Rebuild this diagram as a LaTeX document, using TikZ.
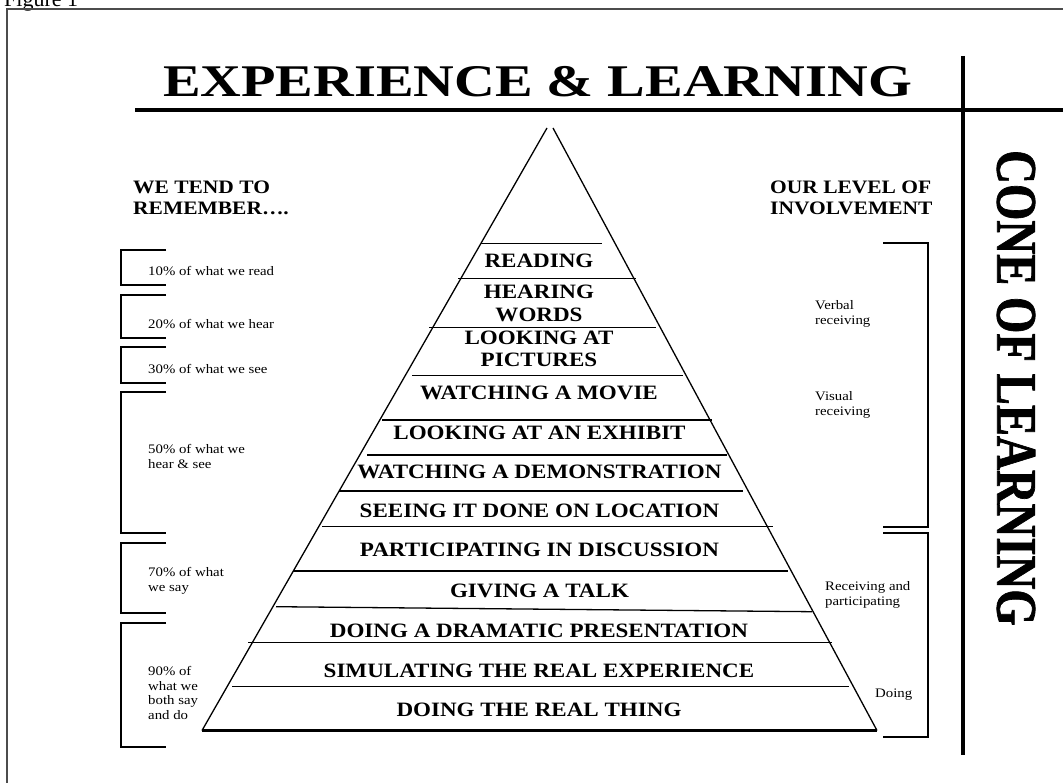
\documentclass[tikz,border=0pt]{standalone}
\usepackage{fontspec}
\setmainfont{Liberation Serif}
\newfontfamily\fa{Liberation Serif}[FakeStretch=1.13]
\newfontfamily\fs{Liberation Serif}[FakeStretch=1.14]
\newfontfamily\fb{Liberation Serif}[FakeStretch=1.245]
\newfontfamily\fc{Liberation Serif}[FakeStretch=0.815,FakeBold=1.2]
\begin{document}
\begin{tikzpicture}[x=1pt,y=-1pt,
  frame/.style={line width=1.3pt, black!70},
  edge/.style={line width=1.3pt},
  layer/.style={line width=1.3pt},
  brk/.style={line width=1.4pt},
  ptext/.style={font=\fa\bfseries\fontsize{20.4}{23}\selectfont, inner sep=0pt, align=center},
  small/.style={font=\fs\fontsize{13}{15}\selectfont, inner sep=0pt, align=left, anchor=north west},
  head/.style={font=\fa\bfseries\fontsize{19}{21}\selectfont, inner sep=0pt, align=left, anchor=north west}]
\useasboundingbox (0,0) rectangle (1063,783);
% frame and caption
\node[font=\fontsize{22}{24}\selectfont, inner sep=0pt, anchor=base west] (fig) at (4,6.5) {Figure 1};
\draw[frame] (7,800) -- (7,9) -- (1080,9);
% title
\node[font=\fb\bfseries\fontsize{45.3}{50}\selectfont, inner sep=0pt] (title) at (537.5,82) {EXPERIENCE \& LEARNING};
\draw[line width=3.5pt] (135,110) -- (1070,110);
\draw[line width=4pt] (963,56) -- (963,755);
\node[font=\fc\bfseries\fontsize{57.4}{60}\selectfont, inner sep=0pt, rotate=-90] (cone) at (1016,388) {CONE OF LEARNING};
% headings
\node[head] (rem) at (133,180.5) {WE TEND TO\\REMEMBER\ldots.};
\node[head] (inv) at (770,180.5) {OUR LEVEL OF\\INVOLVEMENT};
% pyramid
\coordinate (apl) at (547,128);
\coordinate (apr) at (553,128);
\coordinate (bl) at (202,730.5);
\coordinate (br) at (877,730.5);
\draw[edge] (apl) -- (bl);
\draw[edge] (apr) -- (br);
\draw[line width=2.4pt] (bl) -- (br);
\draw[layer] (481,243.5) -- (602,243.5);
\draw[layer] (458,278.3) -- (636,278.3);
\draw[layer] (429,327.3) -- (656,327.3);
\draw[layer] (412,375.7) -- (683,375.7);
\draw[layer] (382,420) -- (712,420);
\draw[layer] (367,455) -- (727,455);
\draw[layer] (339,491) -- (743,491);
\draw[layer] (322,526.7) -- (773,526.7);
\draw[layer] (293,571) -- (788,571);
\draw[layer] (276,606.7) -- (812,611.7);
\draw[layer] (248,642.3) -- (832,642.3);
\draw[layer] (232,686.7) -- (849,686.7);
\node[ptext] (p1) at (539,260.7) {READING};
\node[ptext, font=\fa\bfseries\fontsize{20.4}{23.3}\selectfont] (p2) at (539,303.3) {HEARING\\WORDS};
\node[ptext, font=\fa\bfseries\fontsize{20.4}{22.7}\selectfont] (p3) at (539,348.7) {LOOKING AT\\PICTURES};
\node[ptext] (p4) at (539,392.7) {WATCHING A MOVIE};
\node[ptext] (p5) at (539.5,433.3) {LOOKING AT AN EXHIBIT};
\node[ptext] (p6) at (539.5,471.7) {WATCHING A DEMONSTRATION};
\node[ptext] (p7) at (539.5,510.7) {SEEING IT DONE ON LOCATION};
\node[ptext] (p8) at (539.5,550) {PARTICIPATING IN DISCUSSION};
\node[ptext] (p9) at (539.5,590.7) {GIVING A TALK};
\node[ptext] (p10) at (539,630.7) {DOING A DRAMATIC PRESENTATION};
\node[ptext] (p11) at (539,670.7) {SIMULATING THE REAL EXPERIENCE};
\node[ptext] (p12) at (539,710) {DOING THE REAL THING};
% left brackets
\draw[brk] (166,250) -- (121,250) -- (121,285) -- (166,285);
\draw[brk] (166,295) -- (121,295) -- (121,338) -- (166,338);
\draw[brk] (166,347) -- (121,347) -- (121,383) -- (166,383);
\draw[brk] (166,392) -- (121,392) -- (121,533) -- (166,533);
\draw[brk] (166,543) -- (121,543) -- (121,613) -- (166,613);
\draw[brk] (166,623) -- (121,623) -- (121,747) -- (166,747);
\node[small] (r10) at (148,266) {10\% of what we read};
\node[small] (r20) at (148,319) {20\% of what we hear};
\node[small] (r30) at (148,364) {30\% of what we see};
\node[small] (r50) at (148,444) {50\% of what we\\hear \& see};
\node[small] (r70) at (148,567) {70\% of what\\we say};
\node[small, font=\fs\fontsize{13}{14.7}\selectfont] (r90) at (148,666) {90\% of\\what we\\both say\\and do};
% right brackets
\draw[brk] (883,243) -- (928,243) -- (928,527) -- (883,527);
\draw[brk] (883,533) -- (928,533) -- (928,737) -- (883,737);
\node[small] (vb) at (815,300) {Verbal\\receiving};
\node[small] (vs) at (815,391) {Visual\\receiving};
\node[small] (rp) at (825,581) {Receiving and\\participating};
\node[small] (dg) at (875,689) {Doing};
\end{tikzpicture}
\end{document}
